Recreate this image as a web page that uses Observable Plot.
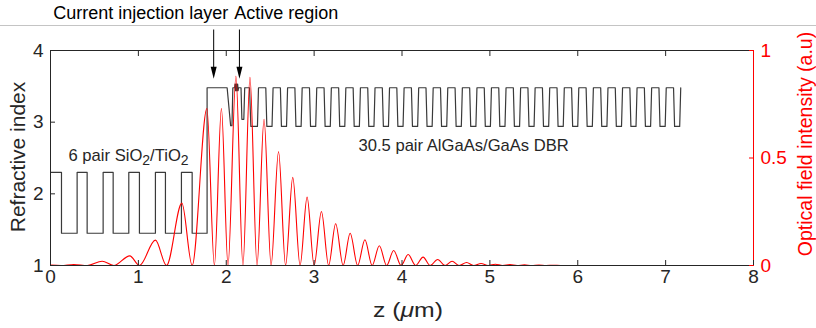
<!DOCTYPE html>
<html><head><meta charset="utf-8">
<script src="https://cdn.jsdelivr.net/npm/d3@7"></script>
<script src="https://cdn.jsdelivr.net/npm/@observablehq/plot@0.6"></script>
<style>
body{margin:0;background:#fff;}
#wrap{position:relative;width:816px;height:328px;overflow:hidden;background:#fff;}
#wrap svg{position:absolute;left:0;top:0;}
#sep{position:absolute;left:0;top:25px;width:816px;height:1px;background:#c4c4c4;}
</style></head><body>
<div id="wrap"></div>
<script>
// ---- data ----
const xTicks = [0, 1, 2, 3, 4, 5, 6, 7, 8];
const yTicks = [1, 2, 3, 4];
const rightTicks = [0, 0.5, 1];
const rightTickLabels = ["0", "0.5", "1"];

// SiO2/TiO2 mirror + current injection layer + active region (z in um, n)
const mirrorZ = [0, 0.125, 0.125, 0.303, 0.303, 0.417, 0.417, 0.599, 0.599, 0.713, 0.713, 0.891, 0.891, 1.012, 1.012, 1.194, 1.194, 1.308, 1.308, 1.49, 1.49, 1.612, 1.612, 1.782, 1.782];
const mirrorN = [2.3, 2.3, 1.45, 1.45, 2.3, 2.3, 1.45, 1.45, 2.3, 2.3, 1.45, 1.45, 2.3, 2.3, 1.45, 1.45, 2.3, 2.3, 1.45, 1.45, 2.3, 2.3, 1.45, 1.45, 3.48];
const cavityZ = [2.01, 2.05, 2.065, 2.075, 2.095, 2.10, 2.105, 2.11, 2.115, 2.12, 2.125, 2.13, 2.135, 2.14, 2.168, 2.178, 2.2, 2.21, 2.265, 2.28];
const cavityN = [3.48, 2.95, 2.95, 3.48, 3.48, 3.53, 3.44, 3.53, 3.44, 3.53, 3.44, 3.53, 3.44, 3.48, 3.48, 3.04, 3.04, 3.48, 3.48, 2.94];
// AlGaAs/GaAs DBR edges
const dbrRiseZ = [2.355, 2.521, 2.686, 2.852, 3.018, 3.184, 3.349, 3.515, 3.681, 3.846, 4.012, 4.178, 4.343, 4.509, 4.675, 4.841, 5.006, 5.172, 5.338, 5.503, 5.669, 5.835, 6.000, 6.166, 6.332, 6.498, 6.663, 6.829, 6.995, 7.160];
const dbrFallZ = [2.450, 2.616, 2.781, 2.947, 3.113, 3.279, 3.444, 3.610, 3.776, 3.941, 4.107, 4.273, 4.438, 4.604, 4.770, 4.936, 5.101, 5.267, 5.433, 5.598, 5.764, 5.930, 6.095, 6.261, 6.427, 6.593, 6.758, 6.924, 7.090];
const nGaAs = 3.48, nAlGaAs = 2.94;

// optical field intensity: lobe maxima and nulls
const peakZ = [0.265, 0.588, 0.902, 1.194, 1.495, 1.78, 1.945, 2.11, 2.27, 2.43, 2.595, 2.757, 2.92, 3.083, 3.245, 3.41, 3.578, 3.742, 3.905, 4.07, 4.24, 4.406, 4.57, 4.735, 4.9, 5.062, 5.228, 5.393, 5.558, 5.722];
const peakI = [0.005, 0.02, 0.045, 0.118, 0.29, 0.73, 0.73, 0.88, 0.875, 0.68, 0.53, 0.41, 0.318, 0.251, 0.194, 0.15, 0.12, 0.092, 0.07, 0.051, 0.039, 0.028, 0.02, 0.014, 0.009, 0.006, 0.004, 0.003, 0.002, 0.0015];
const zeroZ = [0.12, 0.42, 0.72, 1.012, 1.32, 1.612, 1.865, 2.02, 2.19, 2.35, 2.51, 2.675, 2.84, 3.0, 3.165, 3.33, 3.495, 3.66, 3.825, 3.99, 4.155, 4.32, 4.49, 4.65, 4.815, 4.98, 5.145, 5.31, 5.475, 5.64, 5.805, 7.16];
const fieldStart = {z: 0, I: 0.002};

const topLabels = ["Current injection layer", "Active region"];
const topLabelZ = [0.03, 2.09];
const arrowZ = [1.857, 2.15];
const layerLabels = ["6 pair SiO2/TiO2", "30.5 pair AlGaAs/GaAs DBR"];
const layerLabelZ = [0.205, 3.505];
const layerLabelN = [2.535, 2.675];

// ---- build tables ----
const profile = [];
mirrorZ.forEach((z, i) => profile.push({z, n: mirrorN[i]}));
cavityZ.forEach((z, i) => profile.push({z, n: cavityN[i]}));
const ramp = 0.012;
dbrRiseZ.forEach((r, k) => {
  profile.push({z: r, n: nAlGaAs}, {z: r + ramp, n: nGaAs});
  if (k < dbrFallZ.length) profile.push({z: dbrFallZ[k], n: nGaAs}, {z: dbrFallZ[k] + ramp, n: nAlGaAs});
});

const field = [fieldStart]
  .concat(peakZ.map((z, i) => ({z, I: peakI[i]})))
  .concat(zeroZ.map(z => ({z, I: 0})))
  .sort((a, b) => a.z - b.z);
const toN = I => 1 + 3 * I; // right axis [0,1] onto left axis [1,4]

const head = {draw(ctx) { ctx.moveTo(0, 0); ctx.lineTo(-3, -12); ctx.lineTo(3, -12); ctx.closePath(); }};
const ink = "#262626";
const font = "'Liberation Sans', Arial, sans-serif";

const chart = Plot.plot({
  width: 816, height: 328,
  marginLeft: 50, marginRight: 63, marginTop: 50, marginBottom: 63,
  style: {fontFamily: font, fontSize: "19px", color: ink, background: "transparent", overflow: "visible"},
  x: {domain: [0, 8]},
  y: {domain: [1, 4]},
  marks: [
    Plot.line(profile, {x: "z", y: "n", stroke: "#3a3a3a", strokeWidth: 1.2}),
    Plot.line(field, {x: "z", y: d => toN(d.I), stroke: "#ff0000", strokeWidth: 1.1, curve: "monotone-x"}),
    Plot.ruleY([1, 4], {stroke: ink}),
    Plot.ruleX([0], {stroke: ink}),
    Plot.ruleX([8], {stroke: "#ff0000"}),
    Plot.axisX({anchor: "bottom", ticks: xTicks, tickSize: -5, tickPadding: 9, tickFormat: d => String(d), label: null, fontSize: 19}),
    Plot.axisX({anchor: "top", ticks: xTicks.slice(1, -1), tickSize: -5, tickFormat: () => "", label: null}),
    Plot.axisY({anchor: "left", ticks: yTicks, tickSize: -5, tickPadding: 12, tickFormat: d => String(d), label: null, fontSize: 19}),
    Plot.axisY({anchor: "right", ticks: rightTicks.map(toN), tickFormat: (d, i) => rightTickLabels[i], tickSize: -5, tickPadding: 12, color: "#ff0000", label: null, fontSize: 19}),
    Plot.text(["Refractive index"], {text: d => d, frameAnchor: "left", textAnchor: "middle", lineAnchor: "middle", dx: -32, dy: -1, rotate: -90, fontSize: 21, fill: ink}),
    Plot.text(["Optical field intensity (a.u)"], {text: d => d, frameAnchor: "right", textAnchor: "middle", lineAnchor: "middle", dx: 52, dy: -14, rotate: -90, fontSize: 19.5, fill: "#ff0000"}),
    Plot.text(["z (μm)"], {text: d => d, frameAnchor: "bottom", textAnchor: "middle", dx: 6, dy: 51, fontSize: 21, fill: ink}),
    Plot.text(topLabels, {text: d => d, x: topLabelZ, y: 4.516, textAnchor: "start", lineAnchor: "middle", fontSize: 18, fill: "#000"}),
    Plot.text(layerLabels, {text: d => d, x: layerLabelZ, y: layerLabelN, textAnchor: "start", lineAnchor: "middle", fontSize: 16.6, fill: ink}),
    Plot.link(arrowZ, {x1: d => d, x2: d => d, y1: 4.293, y2: 3.7, stroke: "#000", strokeWidth: 1}),
    Plot.dot(arrowZ, {x: d => d, y: 3.605, symbol: head, fill: "#000", stroke: "none", r: 4})
  ]
});

// subscripts and italic mu as real text
const svgNS = "http://www.w3.org/2000/svg";
chart.querySelectorAll("text").forEach(t => {
  const s = t.textContent;
  if (s.includes("SiO2")) {
    t.textContent = "";
    [["6 pair SiO", 0, null], ["2", 4, 14], ["/TiO", -4, null], ["2", 4, 14]].forEach(([str, dy, fs]) => {
      const ts = document.createElementNS(svgNS, "tspan");
      ts.textContent = str;
      if (dy) ts.setAttribute("dy", dy);
      if (fs) ts.setAttribute("font-size", fs);
      t.appendChild(ts);
    });
  } else if (s === "z (μm)") {
    t.textContent = "";
    [["z (", false], ["μ", true], ["m)", false]].forEach(([str, it]) => {
      const ts = document.createElementNS(svgNS, "tspan");
      ts.textContent = str;
      if (it) ts.setAttribute("font-style", "italic");
      t.appendChild(ts);
    });
    t.setAttribute("textLength", 70);
    t.setAttribute("lengthAdjust", "spacingAndGlyphs");
  }
});

const wrap = document.getElementById("wrap");
wrap.appendChild(chart);
const sep = document.createElement("div");
sep.id = "sep";
wrap.appendChild(sep);
</script>
</body></html>
